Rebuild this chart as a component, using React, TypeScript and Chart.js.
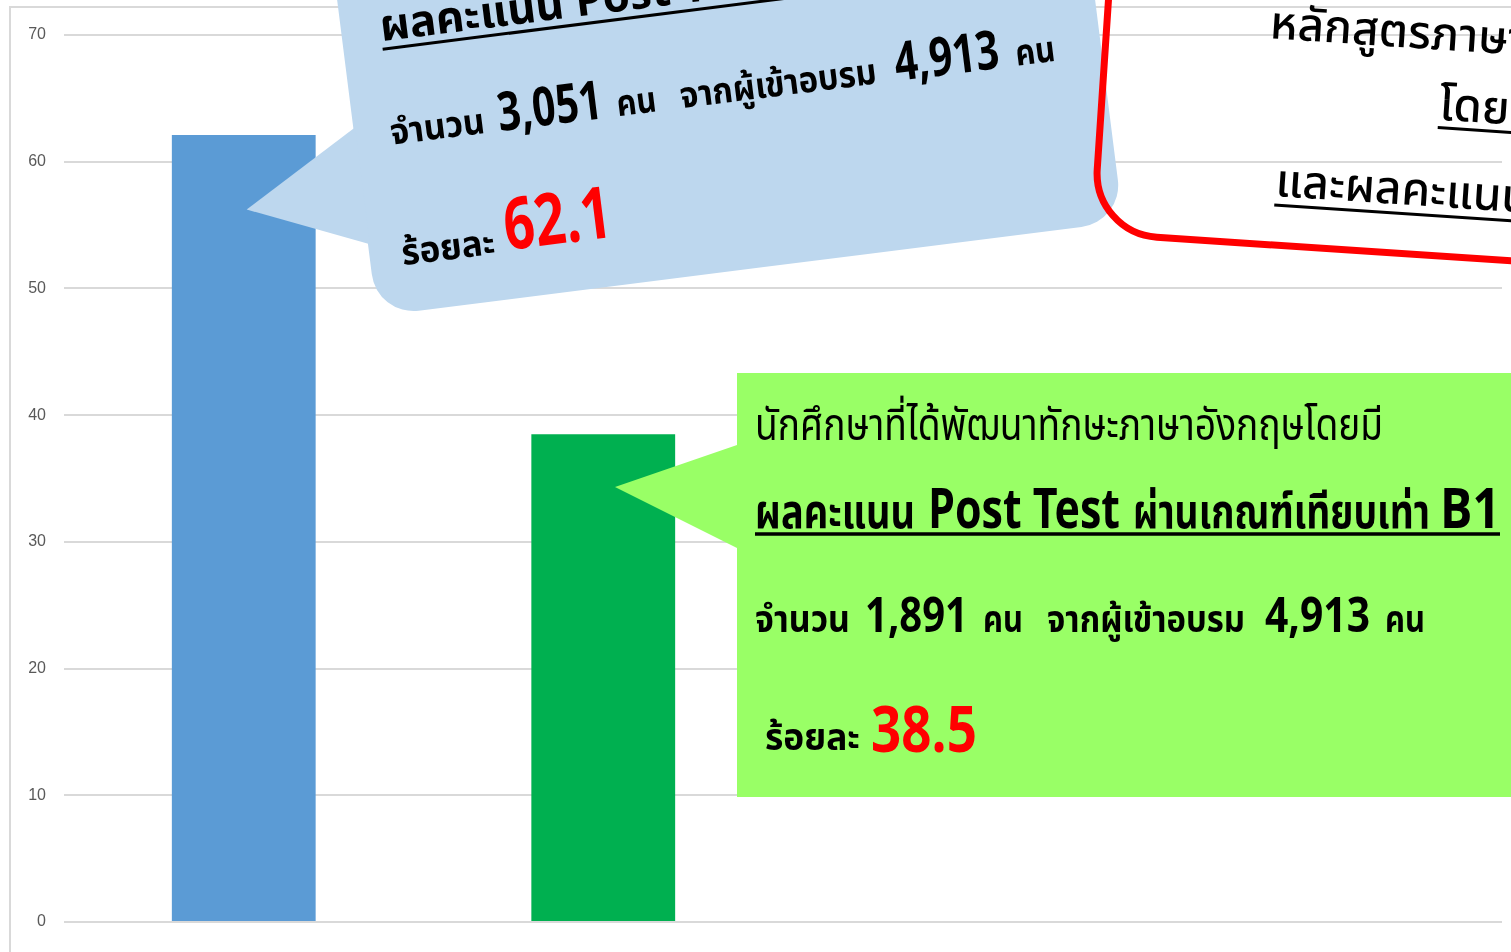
import React, { useEffect, useRef } from 'react';
import { Chart, registerables } from 'chart.js';

Chart.register(...registerables);

// ---- data ----
const categories = ['', '', '', ''];
const passRates = [62.1, 38.5, null, null];
const barColors = ['#5B9BD5', '#00B050', '#5B9BD5', '#00B050'];
const yTickMax = 70;
const yTickStep = 10;

// callout texts
const blueHeading = 'ผลคะแนน Post Test';
const bluePassed = '3,051';
const blueTotal = '4,913';
const bluePercent = '62.1';

const greenIntro = 'นักศึกษาที่ได้พัฒนาทักษะภาษาอังกฤษโดยมี';
const greenHeadingThai = 'ผลคะแนน';
const greenHeadingEn = 'Post Test';
const greenHeadingTail = 'ผ่านเกณฑ์เทียบเท่า';
const greenLevel = 'B1';
const greenPassed = '1,891';
const greenTotal = '4,913';
const greenPercent = '38.5';

const redLines = ['หลักสูตรภาษาอังกฤษ', 'โดยมี', 'และผลคะแนน'];

const W = 1511;
const H = 952;
const THAI = "'Noto Sans Thai', 'Leelawadee UI', Tahoma, 'DejaVu Sans', sans-serif";
const THAI_COND = "'Noto Sans Thai', 'Angsana New', Tahoma, 'DejaVu Sans', sans-serif";

function ChartCanvas() {
  const ref = useRef<HTMLCanvasElement | null>(null);
  useEffect(() => {
    if (!ref.current) return;
    const chart = new Chart(ref.current, {
      type: 'bar',
      data: {
        labels: categories,
        datasets: [
          {
            data: passRates as any,
            backgroundColor: barColors,
            categoryPercentage: 0.8,
            barPercentage: 0.5,
            borderWidth: 0,
          },
        ],
      },
      options: {
        animation: false,
        responsive: false,
        layout: { padding: { top: 35, right: 9, bottom: 30, left: 0 } },
        plugins: { legend: { display: false }, tooltip: { enabled: false } },
        scales: {
          x: {
            grid: { display: false },
            border: { display: false },
            ticks: { display: false },
            afterFit: (s: any) => {
              s.height = 0;
            },
          },
          y: {
            min: 0,
            max: yTickMax,
            ticks: {
              stepSize: yTickStep,
              padding: 18,
              color: '#595959',
              font: { family: 'Liberation Sans', size: 16 },
            },
            grid: { color: '#D9D9D9', lineWidth: 2, drawTicks: false },
            border: { display: false },
            afterFit: (s: any) => {
              s.width = 64;
            },
          },
        },
      },
    });
    return () => chart.destroy();
  }, []);
  return <canvas ref={ref} width={W} height={H} style={{ position: 'absolute', left: 0, top: 0, width: W, height: H }} />;
}

function Overlay() {
  return (
    <svg width={W} height={H} style={{ position: 'absolute', left: 0, top: 0 }}>
      {/* outer chart border */}
      <path d={`M10,${H + 5} L10,7 L${W + 5},7`} fill="none" stroke="#D9D9D9" strokeWidth={2} />

      {/* blue callout */}
      <g transform="translate(385,315) rotate(-7.2)">
        <rect x={-8} y={-460} width={752} height={460} rx={42} fill="#BDD7EE" />
        <polygon points="-6,-190 -124,-122 -6,-72" fill="#BDD7EE" />
        <text x={31} y={-272} fontFamily={THAI} fontWeight="bold" fontSize={44} fill="#000">
          {blueHeading}
        </text>
        <line x1={31} y1={-264} x2={500} y2={-264} stroke="#000" strokeWidth={3} />
        <g fontFamily={THAI_COND} fontWeight="bold" fill="#000">
          <text x={28} y={-168} fontSize={36} textLength={95} lengthAdjust="spacingAndGlyphs">จำนวน</text>
          <text x={137} y={-168} fontSize={54} textLength={105} lengthAdjust="spacingAndGlyphs">{bluePassed}</text>
          <text x={256} y={-168} fontSize={36} textLength={40} lengthAdjust="spacingAndGlyphs">คน</text>
          <text x={320} y={-168} fontSize={36} textLength={198} lengthAdjust="spacingAndGlyphs">จากผู้เข้าอบรม</text>
          <text x={537} y={-168} fontSize={54} textLength={105} lengthAdjust="spacingAndGlyphs">{blueTotal}</text>
          <text x={658} y={-168} fontSize={36} textLength={40} lengthAdjust="spacingAndGlyphs">คน</text>
          <text x={24} y={-47} fontSize={36} textLength={94} lengthAdjust="spacingAndGlyphs">ร้อยละ</text>
          <text x={129} y={-49} fontSize={72} fill="#FF0000" textLength={108} lengthAdjust="spacingAndGlyphs">{bluePercent}</text>
        </g>
      </g>

      {/* red rounded box */}
      <g transform="translate(1093,233) rotate(3.8)">
        <rect x={0} y={-420} width={820} height={420} rx={64} fill="none" stroke="#FF0000" strokeWidth={7} />
        <g fontFamily={THAI} fontSize={46} fontWeight={500} fill="#000">
          <text x={163} y={-206}>{redLines[0]}</text>
          <text x={337} y={-136}>{redLines[1]}</text>
          <line x1={337} y1={-128} x2={600} y2={-128} stroke="#000" strokeWidth={3} />
          <text x={179} y={-49}>{redLines[2]}</text>
          <line x1={179} y1={-40} x2={600} y2={-40} stroke="#000" strokeWidth={3} />
        </g>
      </g>

      {/* green callout */}
      <path d="M737,373 L1520,373 L1520,797 L737,797 L737,548 L615,487 L737,445 Z" fill="#99FF66" />
      <g fill="#000">
        <text x={755} y={440} fontFamily={THAI_COND} fontSize={44} textLength={628} lengthAdjust="spacingAndGlyphs">
          {greenIntro}
        </text>
        <g fontFamily={THAI_COND} fontWeight="bold">
          <text x={755} y={528} fontSize={48} textLength={160} lengthAdjust="spacingAndGlyphs">{greenHeadingThai}</text>
          <text x={928} y={528} fontSize={56} textLength={192} lengthAdjust="spacingAndGlyphs">{greenHeadingEn}</text>
          <text x={1133} y={528} fontSize={48} textLength={297} lengthAdjust="spacingAndGlyphs">{greenHeadingTail}</text>
          <text x={1440} y={528} fontSize={56} textLength={60} lengthAdjust="spacingAndGlyphs">{greenLevel}</text>
          <line x1={755} y1={534} x2={1500} y2={534} stroke="#000" strokeWidth={3.5} />

          <text x={755} y={632} fontSize={38} textLength={95} lengthAdjust="spacingAndGlyphs">จำนวน</text>
          <text x={865} y={632} fontSize={48} textLength={103} lengthAdjust="spacingAndGlyphs">{greenPassed}</text>
          <text x={983} y={632} fontSize={38} textLength={40} lengthAdjust="spacingAndGlyphs">คน</text>
          <text x={1047} y={632} fontSize={38} textLength={198} lengthAdjust="spacingAndGlyphs">จากผู้เข้าอบรม</text>
          <text x={1265} y={632} fontSize={48} textLength={105} lengthAdjust="spacingAndGlyphs">{greenTotal}</text>
          <text x={1385} y={632} fontSize={38} textLength={40} lengthAdjust="spacingAndGlyphs">คน</text>

          <text x={765} y={750} fontSize={38} textLength={95} lengthAdjust="spacingAndGlyphs">ร้อยละ</text>
          <text x={871} y={752} fontSize={64} fill="#FF0000" textLength={106} lengthAdjust="spacingAndGlyphs">{greenPercent}</text>
        </g>
      </g>
    </svg>
  );
}

export default function App() {
  return (
    <div style={{ position: 'fixed', left: 0, top: 0, width: W, height: H, overflow: 'hidden', background: '#fff' }}>
      <ChartCanvas />
      <Overlay />
    </div>
  );
}
